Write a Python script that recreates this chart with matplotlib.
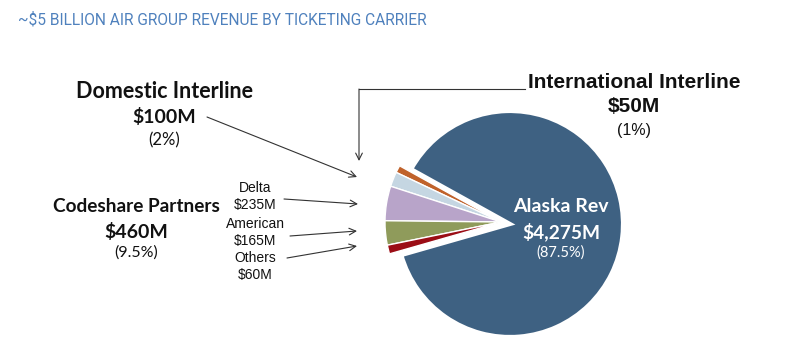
import matplotlib
matplotlib.use("Agg")
from matplotlib import pyplot as plt

# revenue by ticketing carrier, $M (order: top of small group, going counterclockwise)
carriers = ["International Interline", "Domestic Interline", "Delta", "American", "Others", "Alaska Rev"]
revenue = [50, 100, 235, 165, 60, 4275]
colours = ["#C0622B", "#C5D6E2", "#B8A4C9", "#8F9B5B", "#9B0D15", "#3E6182"]

W, H = 800, 353
fig = plt.figure(figsize=(W / 100, H / 100), dpi=100)
ax = fig.add_axes([0, 0, 1, 1])


def py(y):
    # pixel row from top -> data y
    return H - y


# pie, small slices pulled out to the left
cx, cy, r = 510, py(224), 113
wedges, _ = ax.pie(revenue, colors=colours, startangle=151, counterclock=True,
                   center=(cx, cy), radius=r, frame=True,
                   wedgeprops=dict(edgecolor="white", linewidth=1.0))
wedges[-1].set_linewidth(3.0)
for w in wedges[:-1]:
    w.set_center((cx - 9, cy + 2))
    w.set_radius(r + 3)
ax.set_xlim(0, W)
ax.set_ylim(0, H)
ax.set_aspect("equal")
ax.axis("off")

# title
fig.text(18 / W, 1 - 20 / H, "~$5 BILLION AIR GROUP REVENUE BY TICKETING CARRIER",
         family=["Roboto", "Liberation Sans"], fontsize=11.2,
         color="#4F81BD", va="center", ha="left")

calibri = ["Lato", "DejaVu Sans"]
arial = ["Liberation Sans", "DejaVu Sans"]
dark = "#111111"

# Alaska label
ax.text(561, py(207), "Alaska Rev", family=calibri, weight="bold", fontsize=14,
        color="white", ha="center", va="center")
ax.text(561, py(232), "$4,275M", family=calibri, weight="bold", fontsize=13.8,
        color="white", ha="center", va="center")
ax.text(561, py(253), "(87.5%)", family=calibri, fontsize=10.5,
        color="white", ha="center", va="center")

# Domestic Interline
ax.text(164, py(92), "Domestic Interline", family=calibri, weight="bold", fontsize=15.5,
        color=dark, ha="center", va="center")
ax.text(164, py(117), "$100M", family=calibri, weight="bold", fontsize=14,
        color=dark, ha="center", va="center")
ax.text(164, py(140), "(2%)", family=calibri, fontsize=12,
        color=dark, ha="center", va="center")

# Codeshare Partners
ax.text(136, py(207), "Codeshare Partners", family=calibri, weight="bold", fontsize=13.7,
        color=dark, ha="center", va="center")
ax.text(136, py(232), "$460M", family=calibri, weight="bold", fontsize=14,
        color=dark, ha="center", va="center")
ax.text(136, py(253), "(9.5%)", family=calibri, fontsize=11.5,
        color=dark, ha="center", va="center")

# International Interline
ax.text(634, py(82), "International Interline", family=arial, weight="bold", fontsize=15,
        color=dark, ha="center", va="center")
ax.text(634, py(107), "$50M", family=arial, weight="bold", fontsize=15,
        color=dark, ha="center", va="center")
ax.text(634, py(130), "(1%)", family=arial, fontsize=11.5,
        color=dark, ha="center", va="center")

# codeshare breakdown
for name, val, y in [("Delta", revenue[2], 188), ("American", revenue[3], 224), ("Others", revenue[4], 258)]:
    ax.text(255, py(y), name, family=arial, fontsize=10, color=dark, ha="center", va="center")
    ax.text(255, py(y + 17), "$%dM" % val, family=arial, fontsize=10, color=dark,
            ha="center", va="center")

# arrows
arrow = dict(arrowstyle="->", color="#333333", lw=0.8, shrinkA=0, shrinkB=0,
             mutation_scale=12)
for (x0, y0), (x1, y1) in [((207, 117), (357, 177)),
                           ((284, 199), (358, 204)),
                           ((290, 236), (357, 231)),
                           ((287, 258), (357, 246))]:
    ax.annotate("", xy=(x1, py(y1)), xytext=(x0, py(y0)), arrowprops=arrow)

ax.plot([525, 359], [py(89), py(89)], color="#333333", lw=0.8)
ax.annotate("", xy=(359, py(161)), xytext=(359, py(89)), arrowprops=arrow)

fig.savefig("out.png", dpi=100)
